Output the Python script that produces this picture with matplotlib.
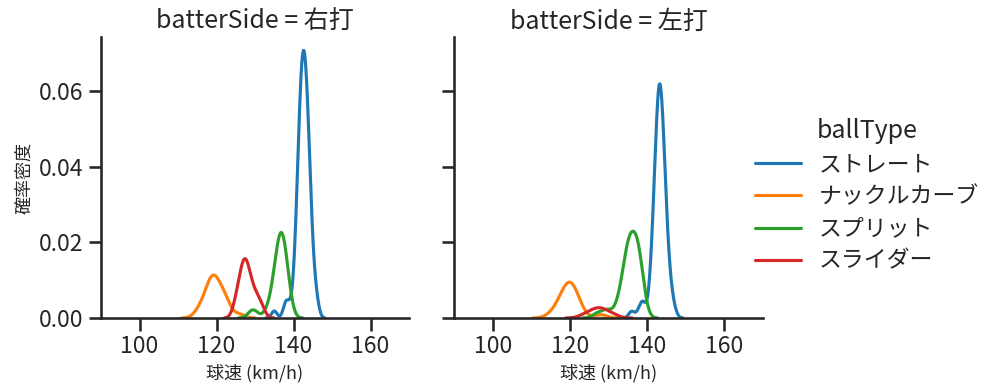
import numpy as np
import matplotlib
matplotlib.use('Agg')
import matplotlib.pyplot as plt
import seaborn as sns
from matplotlib.lines import Line2D

sns.set_theme(context='talk', style='ticks')
plt.rcParams['font.family'] = ['Noto Sans CJK JP', 'DejaVu Sans']

sides = ['右打', '左打']
ball_types = ['ストレート', 'ナックルカーブ', 'スプリット', 'スライダー']
colors = ['#1f77b4', '#ff7f0e', '#2ca02c', '#d62728']

# pitch speeds (km/h) and number of pitches at each speed
R_straight_speed = [135, 138, 139, 140, 141, 142, 143, 144, 145, 146]
R_straight_count = [1, 2, 1, 2, 11, 22, 23, 15, 5, 2]
R_knuckle_speed = [115, 116, 117, 118, 119, 120, 121, 122, 123, 126]
R_knuckle_count = [1, 1, 2, 3, 5, 3, 3, 2, 2, 1]
R_split_speed = [129, 130, 133, 134, 135, 136, 137, 138, 139]
R_split_count = [1, 1, 1, 1, 4, 7, 9, 6, 2]
R_slider_speed = [125, 126, 127, 128, 129, 130, 131, 132]
R_slider_count = [2, 3, 6, 5, 3, 2, 2, 1]

L_straight_speed = [136, 138, 139, 141, 142, 143, 144, 145, 146, 147]
L_straight_count = [1, 1, 2, 4, 12, 22, 18, 8, 3, 1]
L_knuckle_speed = [115, 117, 118, 119, 120, 121, 122, 123, 128]
L_knuckle_count = [1, 2, 2, 3, 4, 3, 2, 1, 1]
L_split_speed = [127, 129, 130, 132, 133, 134, 135, 136, 137, 138, 139]
L_split_count = [1, 1, 1, 1, 2, 4, 8, 7, 7, 8, 2]
L_slider_speed = [124, 126, 127, 128, 129, 131]
L_slider_count = [1, 1, 1, 1, 1, 1]

data = {
    '右打': [(R_straight_speed, R_straight_count), (R_knuckle_speed, R_knuckle_count),
             (R_split_speed, R_split_count), (R_slider_speed, R_slider_count)],
    '左打': [(L_straight_speed, L_straight_count), (L_knuckle_speed, L_knuckle_count),
             (L_split_speed, L_split_count), (L_slider_speed, L_slider_count)],
}

total = sum(sum(c) for side in data.values() for (_, c) in side)


def kde(speeds, counts, total_n):
    v = np.repeat(np.asarray(speeds, float), counts)
    n = v.size
    bw = v.std(ddof=1) * n ** (-1 / 5)
    grid = np.linspace(v.min() - 3 * bw, v.max() + 3 * bw, 200)
    dens = np.exp(-0.5 * ((grid[:, None] - v[None, :]) / bw) ** 2).sum(1)
    dens /= bw * np.sqrt(2 * np.pi) * total_n
    return grid, dens


W, H = 999, 391
fig = plt.figure(figsize=(W / 100, H / 100), dpi=100)
ax_pos = [(101, 37, 308, 281), (454, 37, 309, 281)]
axes = []
ymax = 0
for i, side in enumerate(sides):
    x0, y0, w, h = ax_pos[i]
    ax = fig.add_axes([x0 / W, 1 - (y0 + h) / H, w / W, h / H])
    axes.append(ax)
    for (sp, ct), col in zip(data[side], colors):
        g, d = kde(sp, ct, total)
        ax.plot(g, d, color=col, lw=2.25)
        ymax = max(ymax, d.max())
    ax.set_title(f'batterSide = {side}', fontsize=18)
    ax.set_xlabel('球速 (km/h)', fontsize=13)
    ax.set_xlim(90, 170)
    ax.set_xticks([100, 120, 140, 160])
    sns.despine(ax=ax)

for ax in axes:
    ax.set_ylim(0, ymax * 1.05)
    ax.set_yticks([0, 0.02, 0.04, 0.06])
axes[0].set_yticklabels(['0.00', '0.02', '0.04', '0.06'])
axes[0].set_ylabel('確率密度', fontsize=13)
axes[1].tick_params(labelleft=False)

handles = [Line2D([], [], color=c, lw=2.25) for c in colors]
fig.legend(handles, ball_types, title='ballType', loc='center left',
           bbox_to_anchor=(0.735, 0.5), frameon=False, fontsize=16.5,
           title_fontsize=18, labelspacing=0.4)

fig.savefig('out.png', dpi=100)
